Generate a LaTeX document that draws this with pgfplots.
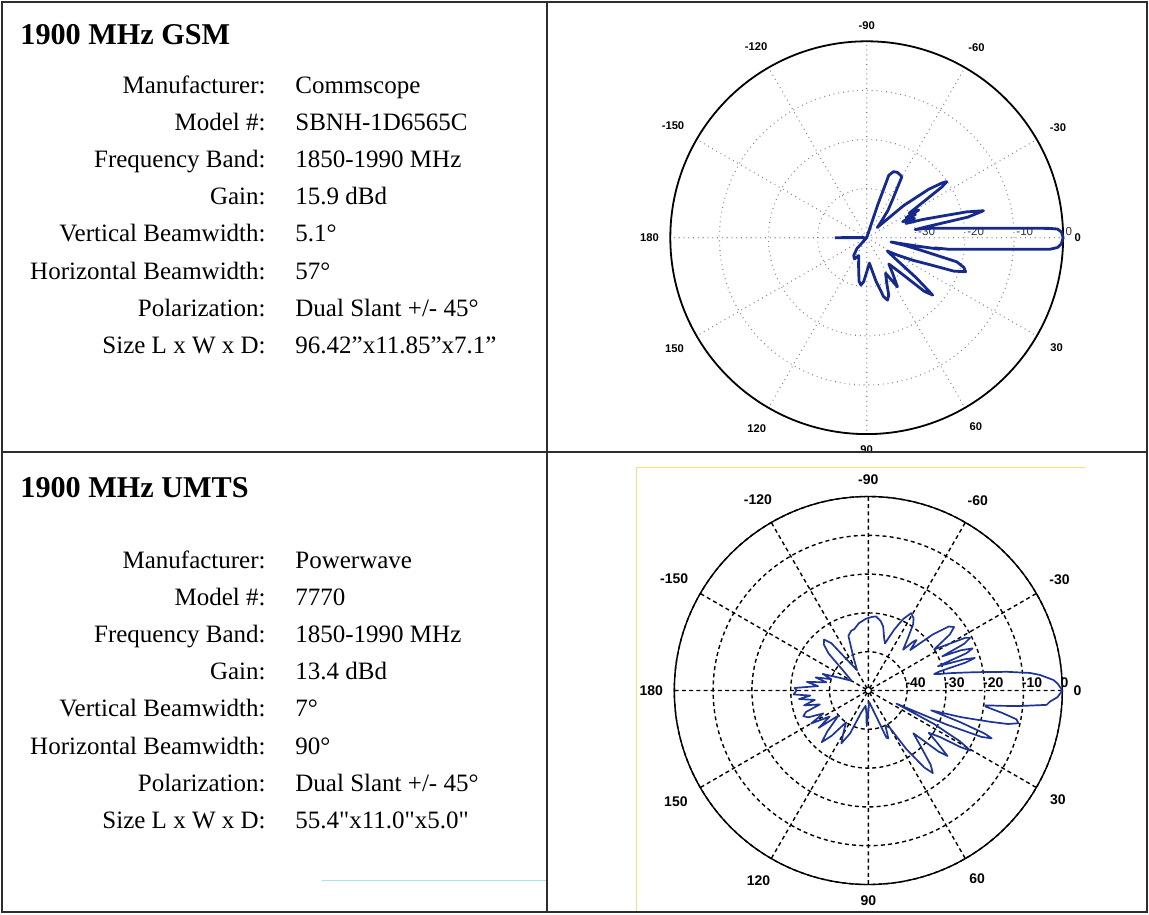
\documentclass[border=0pt]{standalone}
\usepackage{fontspec}
\setmainfont{Liberation Serif}
\newfontfamily\lsans{Liberation Sans}
\usepackage{pgfplots}
\pgfplotsset{compat=1.18}
\usepackage{pgfplotstable}
\usepgfplotslibrary{polar}
\definecolor{patA}{RGB}{22,42,140}
\definecolor{patB}{RGB}{30,52,150}
\definecolor{gridA}{RGB}{115,125,160}
\definecolor{framec}{RGB}{45,45,45}
\definecolor{scanY}{RGB}{240,225,120}
\definecolor{scanC}{RGB}{170,225,240}

% top pattern: angle (deg, clockwise as labelled), level (dB)
\pgfplotstableread{
ang db
-180 -33.5
-179 -38
-175 -40
-120 -40
-80 -40
-73 -40
-71.5 -33
-70.5 -26.5
-68 -25.5
-65 -25.3
-62 -25.5
-60 -25.7
-58.5 -28
-56 -30.5
-52 -33
-47 -36
-44 -37
-41 -30
-38 -24
-36 -21
-35 -20.1
-34 -21.5
-32 -27
-30 -30
-28 -28
-27 -31
-25.5 -29
-24 -32
-22 -29.5
-20 -31.5
-18 -28
-16 -24
-14.5 -19
-13 -15.6
-11.5 -19
-10.5 -27
-9.5 -30
-9 -28
-8 -26.2
-7 -24.3
-6 -21.7
-5 -18
-4 -12.5
-3.1 -4.6
-2.9 -2.6
-2.6 -1.1
-1.7 -0.33
0 0
1.86 -0.35
2.95 -1.1
3.6 -2.6
3.83 -4.6
4.3 -8.4
5 -12.9
6 -17.4
7 -20.6
8 -23
8.5 -26
9 -25
9.5 -30
10 -35
11.5 -32
13 -28.7
15 -21
17 -19.3
19 -18.7
21 -21
23 -25.8
26 -29.5
29.5 -32.8
33 -35
36 -33
39 -27
41 -22.2
43 -24
46 -30
50 -33
54 -31
58 -28.2
62 -31.8
66 -30
69 -27.5
71.5 -26.6
74 -27.5
78 -31
84 -34.8
90 -33
94 -31
97 -30.3
100 -31
106 -34
114 -36
120 -35
126 -35.5
132 -37
140 -40
178 -40
180 -33.5
}\topdata

% bottom pattern
\pgfplotstableread{
ang db
-180 -31.5
-178 -31
-175 -37
-172 -34
-169 -39
-166 -36
-163 -40
-160 -37.5
-156 -42
-150 -45
-142 -42
-137 -36
-134 -33.5
-131 -32.6
-128 -34.5
-125 -40
-119 -44
-114 -40.5
-110 -35
-106 -34
-103 -33.8
-98 -32.5
-92 -31.5
-87 -31
-84 -30.8
-80 -31.8
-77 -33
-73 -36
-70.5 -37.1
-67 -33
-64 -29.5
-61 -27.2
-58 -28
-56 -29.3
-53 -33
-49.5 -36.2
-47.5 -33
-46.3 -32
-44 -35
-41 -28
-38.5 -23.5
-36.5 -22.5
-34.5 -24.5
-32 -30
-30 -26
-28.5 -21.5
-27.3 -20.5
-26 -22.5
-24.8 -29
-23.5 -24
-22 -21
-20.8 -23
-19.2 -31
-18 -24
-17 -21.3
-16 -24
-15 -31
-14 -32.5
-13 -31
-12 -28.5
-11 -26
-10 -23
-9 -19.5
-8.2 -16.6
-7.7 -14
-6.2 -8.1
-5.2 -5.6
-3.25 -2.2
-2 -1.1
0 0
2 -1.2
3.5 -3.1
4.6 -3.9
5.8 -10.5
6.5 -15
7.2 -19.5
7.8 -19.5
9.5 -15
11 -11.1
12.3 -10.4
13.5 -13
14.4 -17.6
16 -25
17.5 -33
19 -25
20.3 -18
21.2 -15.9
22.3 -18.5
23.5 -28
25 -42
27 -31
29 -23
30.5 -19.5
31.5 -22
33 -28
35 -31
37 -28
39.6 -23.5
41 -26
43.5 -34
47 -30
50 -25
52 -23
54 -25.5
57 -32
60 -38.9
64 -40
67.3 -36.6
69 -37
73 -43
80 -46
86 -47
91 -43
92.7 -40.8
94.5 -44
100 -46
108 -44
113 -38
117 -34.7
120 -37
125 -40
129 -35
132 -32.1
135 -35
140 -40
143 -34
146 -38
150 -33
153 -37
156 -33
158.5 -32
161 -33
164 -37
167 -33
170 -36
173 -32
175 -35
177 -30.7
180 -31.5
}\botdata

\begin{document}
\begin{tikzpicture}
\useasboundingbox (0,0) rectangle (574.5pt,-457pt);
\fill[white] (0,0) rectangle (574.5pt,-457pt);

% scan artefacts
\draw[scanY, line width=0.5pt] (318pt,-233.5pt) -- (318pt,-456pt);
\draw[scanY, line width=0.5pt] (318pt,-233.5pt) -- (542.5pt,-233.5pt);
\draw[scanC, line width=0.5pt] (161pt,-440pt) -- (273.5pt,-440pt);

% left panel text
\begin{scope}[every node/.style={inner sep=0pt}]
\node[anchor=base west, font=\fontsize{15.1pt}{17pt}\selectfont\bfseries] at (10pt,-22.5pt) {1900 MHz GSM};
\foreach \lab/\val [count=\k from 0] in {
  Manufacturer:/Commscope,
  Model \#:/SBNH-1D6565C,
  Frequency Band:/1850-1990 MHz,
  Gain:/15.9 dBd,
  Vertical Beamwidth:/5.1°,
  Horizontal Beamwidth:/57°,
  Polarization:/{Dual Slant +/- 45°},
  Size L x W x D:/96.42”x11.85”x7.1”}{
  \node[anchor=base east, font=\fontsize{12.5pt}{15pt}\selectfont] at (133pt,{-47pt-\k*18.5pt}) {\lab};
  \node[anchor=base west, font=\fontsize{12.5pt}{15pt}\selectfont] at (147.5pt,{-47pt-\k*18.5pt}) {\val};
}
\node[anchor=base west, font=\fontsize{15.1pt}{17pt}\selectfont\bfseries] at (10pt,-248.5pt) {1900 MHz UMTS};
\foreach \lab/\val [count=\k from 0] in {
  Manufacturer:/Powerwave,
  Model \#:/7770,
  Frequency Band:/1850-1990 MHz,
  Gain:/13.4 dBd,
  Vertical Beamwidth:/7°,
  Horizontal Beamwidth:/90°,
  Polarization:/{Dual Slant +/- 45°},
  Size L x W x D:/55.4\textquotedbl x11.0\textquotedbl x5.0\textquotedbl}{
  \node[anchor=base east, font=\fontsize{12.5pt}{15pt}\selectfont] at (133pt,{-284pt-\k*18.6pt}) {\lab};
  \node[anchor=base west, font=\fontsize{12.5pt}{15pt}\selectfont] at (147.5pt,{-284pt-\k*18.6pt}) {\val};
}
\end{scope}

% top polar plot
\begin{polaraxis}[
  at={(433.35pt,-118.85pt)}, anchor=origin,
  scale only axis, width=196.4pt, height=196.4pt,
  xmin=0, xmax=360, ymin=0, ymax=40,
  xtick={0,30,...,330},
  xticklabels={0,-30,-60,-90,-120,-150,180,150,120,90,60,30},
  ytick={10,20,30,40}, yticklabels={-30,-20,-10,0},
  xmajorgrids, ymajorgrids,
  major grid style={gridA, dotted, line width=0.55pt},
  tick style={draw=none},
  x axis line style={black, line width=0.9pt},
  y axis line style={draw=none},
  xticklabel style={font=\lsans\bfseries\fontsize{5.6pt}{6pt}\selectfont, inner sep=5.5pt},
  yticklabel style={font=\lsans\fontsize{5.8pt}{6pt}\selectfont, anchor=south west, inner sep=1pt, text=black!80},
  clip=false,
]
\addplot[patA, line width=1.4pt, no markers, line join=round]
  table[x expr=-\thisrow{ang}, y expr=\thisrow{db}+40] {\topdata};
\end{polaraxis}

% bottom polar plot
\begin{polaraxis}[
  at={(434.15pt,-345.25pt)}, anchor=origin,
  scale only axis, width=194pt, height=194pt,
  xmin=0, xmax=360, ymin=0, ymax=50,
  xtick={0,30,...,330},
  xticklabels={0,-30,-60,-90,-120,-150,180,150,120,90,60,30},
  ytick={10,20,30,40,50}, yticklabels={-40,-30,-20,-10,0},
  xmajorgrids, ymajorgrids,
  major grid style={black, dash pattern=on 2pt off 1.6pt, dash phase=2.4pt, line width=0.7pt},
  tick style={draw=none},
  x axis line style={black, line width=0.7pt},
  y axis line style={draw=none},
  xticklabel style={font=\lsans\bfseries\fontsize{7pt}{8pt}\selectfont, inner sep=5.5pt},
  yticklabel style={font=\lsans\bfseries\fontsize{7pt}{8pt}\selectfont, anchor=south west, inner sep=1pt, xshift=-2pt},
  clip=false,
]
\addplot[patB, line width=0.85pt, no markers, line join=round]
  table[x expr=-\thisrow{ang}, y expr=\thisrow{db}+50] {\botdata};
\end{polaraxis}

% table frame
\draw[framec, line width=1pt] (1pt,-1pt) rectangle (573.5pt,-456pt);
\draw[framec, line width=1pt] (273.5pt,-1pt) -- (273.5pt,-456pt);
\draw[framec, line width=1pt] (1pt,-226pt) -- (573.5pt,-226pt);
\end{tikzpicture}
\end{document}
